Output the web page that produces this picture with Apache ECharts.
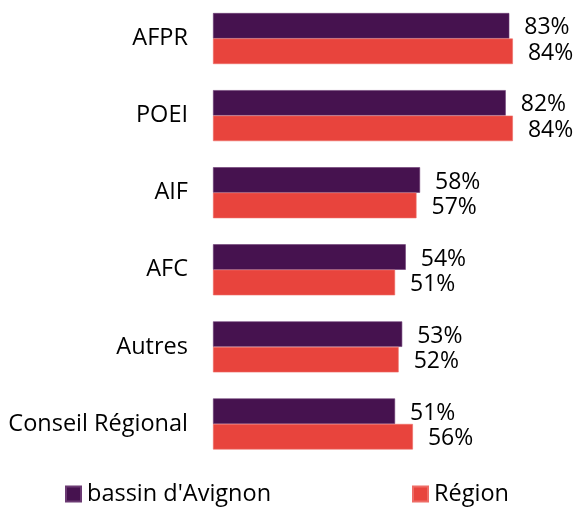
<!DOCTYPE html>
<html>
<head>
<meta charset="utf-8">
<script src="https://cdn.jsdelivr.net/npm/echarts@6/dist/echarts.min.js"></script>
<style>html,body{margin:0;padding:0;background:#fff}#c{width:576px;height:507px}</style>
</head>
<body>
<div id="c"></div>
<script>
const categories = ['AFPR', 'POEI', 'AIF', 'AFC', 'Autres', 'Conseil Régional'];
const seriesNames = ["bassin d'Avignon", 'Région'];
const bassinValues = [83, 82, 58, 54, 53, 51];
const regionValues = [84, 84, 57, 51, 52, 56];

const FONT = '"Open Sans"';
const FS = 23.5;
const chart = echarts.init(document.getElementById('c'), null, {renderer: 'canvas'});
const labelCfg = {
  show: true, position: 'right', distance: 15, offset: [0, 2],
  formatter: '{c}%', fontFamily: FONT, fontSize: 23, color: '#000'
};
const legendBase = {
  top: 477, icon: 'rect', itemWidth: 15, itemHeight: 15, itemGap: 0,
  textStyle: {fontFamily: FONT, fontSize: FS, color: '#000', padding: [0, 0, 0, 1]}
};
chart.setOption({
  animation: false,
  grid: {left: 213, top: 0, height: 462.5, right: 6},
  xAxis: {type: 'value', min: 0, max: 100, show: false},
  yAxis: {
    type: 'category', data: categories, inverse: true,
    axisLine: {show: false}, axisTick: {show: false},
    axisLabel: {fontFamily: FONT, fontSize: FS, color: '#000', margin: 25}
  },
  legend: [
    Object.assign({data: [seriesNames[0]], left: 60}, legendBase),
    Object.assign({data: [seriesNames[1]], left: 407}, legendBase)
  ],
  series: [
    {name: seriesNames[0], type: 'bar', data: bassinValues, barWidth: 25.5, barGap: '0%',
     itemStyle: {color: '#46124F', borderColor: '#6b3a73', borderWidth: 0.6}, label: labelCfg},
    {name: seriesNames[1], type: 'bar', data: regionValues, barWidth: 25.5, barGap: '0%',
     itemStyle: {color: '#E8443D', borderColor: '#ee6c66', borderWidth: 0.6}, label: labelCfg}
  ]
});
</script>
</body>
</html>
